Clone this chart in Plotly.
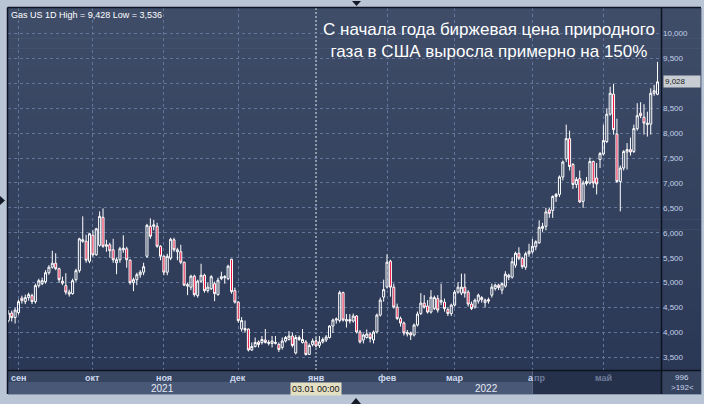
import plotly.graph_objects as go
import pandas as pd

# ---------------- data ----------------
dates = pd.bdate_range("2021-08-27", "2022-05-24")

opens = [4.24, 4.39, 4.30, 4.40, 4.69, 4.62, 4.70, 4.74, 4.62, 4.94,
         4.98, 5.02, 5.20, 5.31, 5.39, 5.28, 5.03, 4.94, 4.77, 4.78,
         5.06, 5.24, 5.83, 5.83, 5.43, 5.95, 5.56, 5.75, 6.31, 5.73,
         5.76, 5.66, 5.40, 5.46, 5.66, 5.68, 5.45, 5.00, 5.06, 5.16,
         5.21, 5.53, 6.13, 6.13, 6.13, 5.73, 5.53, 5.21, 5.49, 5.86,
         5.62, 5.62, 5.41, 4.93, 4.91, 5.13, 4.74, 5.03, 5.15, 4.84,
         4.88, 4.98, 4.76, 5.08, 5.10, 5.08, 5.47, 4.84, 4.61, 4.07,
         4.08, 4.07, 3.65, 3.72, 3.81, 3.80, 3.85, 3.78, 3.78, 3.78,
         3.76, 3.70, 3.83, 3.86, 3.93, 3.59, 3.86, 3.80, 3.81, 3.56,
         3.76, 3.83, 3.74, 3.81, 3.85, 3.90, 4.13, 4.25, 4.24, 4.80,
         4.23, 4.26, 4.23, 4.33, 4.01, 3.85, 3.90, 3.97, 3.85, 4.01,
         4.35, 4.71, 4.91, 5.43, 4.91, 4.51, 4.28, 4.19, 3.97, 3.99,
         3.95, 4.15, 4.38, 4.59, 4.53, 4.41, 4.48, 4.68, 4.61, 4.61,
         4.46, 4.38, 4.55, 4.81, 4.79, 4.91, 4.81, 4.57, 4.51, 4.63,
         4.70, 4.60, 4.66, 4.75, 4.88, 4.95, 4.85, 4.93, 5.11, 5.11,
         5.35, 5.59, 5.49, 5.31, 5.58, 5.62, 5.72, 5.80, 6.09, 6.13,
         6.46, 6.45, 6.73, 6.77, 7.12, 7.48, 7.89, 7.37, 6.97, 7.09,
         6.63, 6.99, 7.00, 7.43, 7.10, 7.47, 7.58, 7.83, 8.38, 8.78,
         7.98, 7.03, 7.30, 7.62, 7.67, 7.63, 8.09, 8.40, 8.32, 8.17,
         8.18, 8.80, 8.78]

highs = [4.45, 4.44, 4.50, 4.66, 4.74, 4.76, 4.80, 4.78, 4.98, 5.08,
         5.10, 5.25, 5.35, 5.64, 5.59, 5.30, 5.12, 5.19, 4.86, 5.08,
         5.28, 5.90, 6.33, 5.96, 6.00, 6.05, 6.10, 6.43, 6.49, 5.86,
         5.80, 5.88, 5.50, 5.72, 5.95, 5.72, 5.47, 5.10, 5.20, 5.25,
         5.40, 6.18, 6.29, 6.26, 6.20, 5.75, 5.55, 5.58, 5.90, 5.90,
         5.70, 5.76, 5.42, 5.00, 5.16, 5.16, 5.06, 5.38, 5.18, 5.00,
         5.15, 5.02, 5.10, 5.22, 5.15, 5.36, 5.48, 4.90, 4.63, 4.31,
         4.24, 4.08, 3.80, 3.90, 3.84, 3.93, 4.07, 3.85, 3.93, 3.93,
         3.80, 3.90, 3.93, 4.03, 4.00, 3.95, 3.94, 4.07, 3.85, 3.78,
         3.88, 3.90, 3.93, 3.90, 3.95, 4.15, 4.28, 4.30, 4.84, 4.82,
         4.37, 4.37, 4.38, 4.35, 4.05, 3.98, 4.06, 4.00, 4.04, 4.38,
         4.70, 5.06, 5.57, 5.46, 4.98, 4.58, 4.32, 4.22, 4.05, 4.02,
         4.18, 4.42, 4.79, 4.75, 4.65, 4.85, 4.74, 4.75, 4.98, 4.68,
         4.50, 4.58, 4.85, 5.01, 5.18, 5.18, 4.85, 4.62, 4.68, 4.78,
         4.73, 4.68, 4.70, 4.98, 4.98, 4.98, 5.00, 5.23, 5.18, 5.51,
         5.62, 5.71, 5.52, 5.62, 5.78, 5.88, 5.85, 6.25, 6.20, 6.50,
         6.50, 6.75, 6.80, 7.15, 7.45, 8.17, 8.05, 7.40, 7.12, 7.25,
         7.05, 7.12, 7.51, 7.45, 7.40, 7.62, 8.17, 8.50, 8.93, 8.99,
         8.29, 7.35, 7.66, 7.80, 7.91, 8.17, 8.60, 8.62, 8.58, 8.43,
         8.90, 8.97, 9.428]

lows = [4.20, 4.22, 4.18, 4.36, 4.58, 4.57, 4.64, 4.57, 4.58, 4.90,
        4.95, 4.98, 5.16, 5.28, 5.25, 5.00, 4.95, 4.76, 4.72, 4.76,
        5.02, 5.20, 5.80, 5.40, 5.39, 5.52, 5.54, 5.72, 5.70, 5.62,
        5.50, 5.40, 5.17, 5.40, 5.60, 5.30, 4.96, 4.83, 4.95, 5.10,
        5.15, 5.50, 5.88, 6.05, 5.70, 5.45, 5.15, 5.15, 5.45, 5.62,
        5.45, 5.37, 4.93, 4.75, 4.85, 4.72, 4.70, 5.00, 4.80, 4.80,
        4.85, 4.63, 4.74, 5.05, 4.98, 5.05, 4.78, 4.58, 4.20, 4.02,
        4.00, 3.62, 3.63, 3.70, 3.70, 3.76, 3.78, 3.74, 3.70, 3.76,
        3.61, 3.66, 3.80, 3.84, 3.70, 3.56, 3.83, 3.78, 3.536, 3.55,
        3.72, 3.70, 3.69, 3.78, 3.81, 3.88, 3.99, 4.18, 4.20, 4.22,
        4.10, 4.18, 4.20, 3.98, 3.78, 3.78, 3.88, 3.80, 3.78, 3.98,
        4.32, 4.62, 4.88, 4.72, 4.48, 4.25, 4.12, 3.94, 3.92, 3.85,
        3.92, 4.12, 4.35, 4.48, 4.38, 4.38, 4.45, 4.40, 4.55, 4.42,
        4.33, 4.33, 4.52, 4.78, 4.75, 4.70, 4.52, 4.45, 4.48, 4.58,
        4.60, 4.50, 4.58, 4.70, 4.84, 4.85, 4.77, 4.90, 5.05, 5.08,
        5.30, 5.45, 5.28, 5.26, 5.52, 5.58, 5.65, 5.78, 6.02, 6.05,
        6.30, 6.30, 6.62, 6.72, 7.05, 7.42, 7.25, 6.88, 6.90, 6.60,
        6.50, 6.95, 6.97, 6.90, 6.77, 7.30, 7.55, 7.80, 8.35, 7.97,
        7.00, 6.43, 7.25, 7.27, 7.55, 7.60, 8.05, 8.30, 7.97, 7.93,
        7.97, 8.75, 8.76]

closes = [4.39, 4.30, 4.45, 4.62, 4.64, 4.70, 4.76, 4.62, 4.94, 5.04,
          5.04, 5.20, 5.31, 5.39, 5.28, 5.06, 4.99, 4.81, 4.81, 5.04,
          5.24, 5.88, 5.86, 5.45, 5.98, 5.56, 6.08, 6.33, 5.73, 5.76,
          5.64, 5.46, 5.46, 5.68, 5.69, 5.46, 5.00, 5.06, 5.16, 5.21,
          5.32, 6.15, 5.93, 6.16, 5.73, 5.53, 5.21, 5.53, 5.87, 5.66,
          5.66, 5.41, 4.95, 4.96, 5.13, 4.76, 5.03, 5.15, 4.84, 4.91,
          5.12, 4.78, 5.05, 5.12, 5.12, 5.33, 4.82, 4.61, 4.24, 4.24,
          4.05, 3.65, 3.72, 3.80, 3.76, 3.86, 3.80, 3.80, 3.83, 3.80,
          3.66, 3.83, 3.90, 3.93, 3.74, 3.90, 3.90, 3.86, 3.56, 3.74,
          3.83, 3.73, 3.81, 3.86, 3.91, 4.13, 4.25, 4.27, 4.80, 4.25,
          4.26, 4.23, 4.33, 4.01, 3.81, 3.95, 3.97, 3.88, 4.01, 4.35,
          4.65, 4.86, 5.41, 4.91, 4.51, 4.28, 4.19, 3.99, 4.00, 3.95,
          4.15, 4.37, 4.59, 4.51, 4.41, 4.71, 4.70, 4.45, 4.64, 4.48,
          4.38, 4.55, 4.81, 4.91, 4.91, 4.79, 4.57, 4.48, 4.65, 4.75,
          4.66, 4.65, 4.63, 4.91, 4.95, 4.90, 4.98, 5.17, 5.15, 5.42,
          5.59, 5.49, 5.32, 5.58, 5.63, 5.73, 5.82, 6.11, 6.13, 6.42,
          6.39, 6.73, 6.77, 7.12, 7.42, 7.89, 7.33, 6.97, 7.07, 6.62,
          7.00, 7.03, 7.43, 7.00, 6.98, 7.59, 7.85, 8.38, 8.80, 8.07,
          7.03, 7.30, 7.63, 7.67, 7.62, 8.09, 8.35, 8.35, 8.20, 8.20,
          8.80, 8.85, 9.028]

month_labels = ["сен", "окт", "ноя", "дек", "янв", "фев", "мар", "апр", "май"]
year_labels = ["2021", "2022"]
price_ticks = [3.5, 4.0, 4.5, 5.0, 5.5, 6.0, 6.5, 7.0, 7.5, 8.0, 8.5, 9.0, 9.5, 10.0]
header_text = "Gas US 1D High = 9,428 Low = 3,536"
title_text = "С начала года биржевая цена природного<br>газа в США выросла примерно на 150%"
crosshair_label = "03.01 00:00"
corner_top = "996"
corner_bottom = ">192<"

# ---------------- geometry helpers ----------------
W, H = 704, 404
L, R, T, B = 8, 662, 8, 370          # plot area in pixels
PW, PH = R - L, B - T
XR = [-0.106, 193.33]
YR = [3.248, 10.51]

def pxx(p):
    return (p - L) / PW

def pxy(p):
    return (B - p) / PH

def idx_px(i):
    return L + (i - XR[0]) / (XR[1] - XR[0]) * PW

x = list(range(len(dates)))
month_idx = [i for i in range(1, len(dates)) if dates[i].month != dates[i - 1].month]
jan_idx = month_idx[4]
last = closes[-1]

shapes = []

def rect(x0, y0, x1, y1, color, layer="below"):
    shapes.append(dict(type="rect", xref="paper", yref="paper",
                       x0=pxx(x0), x1=pxx(x1), y0=pxy(y1), y1=pxy(y0),
                       fillcolor=color, layer=layer, line=dict(width=0)))

# gradient background for plot + right panel
top_c = (63, 77, 105)
bot_c = (43, 56, 85)
n = 36
for k in range(n):
    y0 = T + PH * k / n
    y1 = T + PH * (k + 1) / n + 0.6
    t = (k + 0.5) / n
    c = tuple(int(round(top_c[j] + (bot_c[j] - top_c[j]) * t)) for j in range(3))
    rect(L, y0, 701, y1, "rgb(%d,%d,%d)" % c)

# bottom axis rows
rect(L, B, R, 382, "#37445f")
rect(L, 382, R, 394, "#4a5877")
apr_px = idx_px(month_idx[7])
rect(apr_px, B, R, 394, "#25314b")
shapes.append(dict(type="line", xref="paper", yref="paper", x0=pxx(apr_px), x1=pxx(apr_px),
                   y0=pxy(394), y1=pxy(B), line=dict(color="#5d6a82", width=1), layer="below"))
rect(R, B, 701, 394, "#36435e")

# frame lines
line_c = "#0d1320"
def seg(x0, y0, x1, y1, color, w):
    shapes.append(dict(type="line", xref="paper", yref="paper", x0=pxx(x0), x1=pxx(x1),
                       y0=pxy(y0), y1=pxy(y1), line=dict(color=color, width=w)))

seg(L - 0.5, T - 0.5, 701, T - 0.5, line_c, 1.5)
seg(L - 0.5, T - 0.5, L - 0.5, 394, line_c, 1.5)
seg(R - 0.5, T, R - 0.5, 394, line_c, 1.5)
seg(L, B + 0.5, 701, B + 0.5, line_c, 1.5)
seg(L, 394.5, 701.5, 394.5, "#8a97ad", 1)
seg(701.5, T, 701.5, 394.5, "#8a97ad", 1)

# crosshair at Jan 3
shapes.append(dict(type="line", xref="x", yref="paper", x0=jan_idx, x1=jan_idx, y0=0, y1=1,
                   line=dict(color="#e8ecf4", width=1, dash="2px,2px"), layer="below"))

# small triangles on the outer frame
def tri(pts):
    path = "M " + " L ".join("%f,%f" % (pxx(a), pxy(b)) for a, b in pts) + " Z"
    shapes.append(dict(type="path", xref="paper", yref="paper", path=path,
                       fillcolor="#141a26", line=dict(width=0)))

tri([(352, 1), (361, 1), (356.5, 6)])
tri([(351, 404), (361, 404), (356, 398)])
tri([(0, 196), (0, 205), (5, 200.5)])

# ---------------- traces ----------------
fig = go.Figure()
fig.add_trace(go.Candlestick(
    x=x, open=opens, high=highs, low=lows, close=closes,
    increasing=dict(line=dict(color="#ffffff", width=1), fillcolor="rgba(0,0,0,0)"),
    decreasing=dict(line=dict(color="#ffffff", width=1), fillcolor="#e8143f"),
    whiskerwidth=0, hoverinfo="skip", showlegend=False,
))

# ---------------- annotations ----------------
font_fam = "Liberation Sans, Arial, sans-serif"
ann = []
ann.append(dict(text=title_text, xref="paper", yref="paper", x=pxx(489), y=pxy(40.5),
                xanchor="center", yanchor="middle", showarrow=False, align="center",
                font=dict(family=font_fam, size=17, color="#ffffff")))
ann.append(dict(text=header_text, xref="paper", yref="paper", x=pxx(9), y=pxy(15),
                xanchor="left", yanchor="middle", showarrow=False,
                font=dict(family=font_fam, size=9, color="#ffffff")))

lab_c = "#ccd8f0"
dim_c = "#6e7c99"
mfont = dict(family=font_fam, size=9, weight="bold")
for k, (i, lab) in enumerate(zip(month_idx, month_labels)):
    if k == 7:
        ann.append(dict(text=lab[0], xref="x", yref="paper", x=i, y=pxy(378), xanchor="right",
                        yanchor="middle", showarrow=False, borderpad=0, borderwidth=0, xshift=2,
                        font=dict(mfont, color=lab_c)))
        ann.append(dict(text=lab[1:], xref="x", yref="paper", x=i, y=pxy(378), xanchor="left",
                        yanchor="middle", showarrow=False, borderpad=0, borderwidth=0, xshift=2,
                        font=dict(mfont, color=dim_c)))
    else:
        col = dim_c if k == 8 else lab_c
        ann.append(dict(text=lab, xref="x", yref="paper", x=i, y=pxy(378), xanchor="center",
                        yanchor="middle", showarrow=False,
                        font=dict(mfont, color=col)))

year_pos = [(0 + jan_idx) / 2, (jan_idx + len(dates) - 1) / 2]
for pos, lab in zip(year_pos, year_labels):
    ann.append(dict(text=lab, xref="x", yref="paper", x=pos, y=pxy(388.5), xanchor="center",
                    yanchor="middle", showarrow=False,
                    font=dict(family=font_fam, size=10, color="#e4eaf6")))

ann.append(dict(text=crosshair_label, xref="x", yref="paper", x=jan_idx, y=pxy(388.5),
                xanchor="center", yanchor="middle", showarrow=False, bgcolor="#e4e0c4",
                borderpad=1, font=dict(family=font_fam, size=9, color="#141414")))

ann.append(dict(text=corner_top, xref="paper", yref="paper", x=pxx(682), y=pxy(377),
                xanchor="center", yanchor="middle", showarrow=False,
                font=dict(family=font_fam, size=8, color=lab_c)))
ann.append(dict(text=corner_bottom, xref="paper", yref="paper", x=pxx(682), y=pxy(387),
                xanchor="center", yanchor="middle", showarrow=False,
                font=dict(family=font_fam, size=8, color=lab_c)))

ann.append(dict(text=("%.3f" % last).replace(".", ","), xref="paper", yref="y", x=pxx(662.5), y=last,
                xanchor="left", yanchor="middle", showarrow=False, bgcolor="#c8cdd3",
                width=34, align="left", borderpad=1,
                font=dict(family=font_fam, size=8, color="#1c1c1c")))

# tick labels (the one hidden behind the last-price box is left blank)
tick_text = ["" if abs(v - last) < 0.25 else ("%.3f" % v).replace(".", ",") for v in price_ticks]

grid_c = "#62759a"
fig.update_layout(
    width=W, height=H,
    margin=dict(l=L, r=W - R, t=T, b=H - B, pad=0),
    paper_bgcolor="#b9c4d4",
    plot_bgcolor="rgba(0,0,0,0)",
    boxgap=0.15,
    showlegend=False,
    shapes=shapes,
    annotations=ann,
    xaxis=dict(range=XR, tickvals=[i for k, i in enumerate(month_idx) if k != 4],
               showticklabels=False, ticks="", showgrid=True, gridcolor=grid_c,
               griddash="3px,3px", gridwidth=1, zeroline=False, showline=False,
               rangeslider=dict(visible=False), fixedrange=True),
    yaxis=dict(range=YR, side="right", tickvals=price_ticks, ticktext=tick_text,
               ticks="", showgrid=True, gridcolor=grid_c, griddash="3px,3px", gridwidth=1,
               zeroline=False, showline=False, ticklabelstandoff=0,
               tickfont=dict(family=font_fam, size=8, color="#c3d1ec"), fixedrange=True),
)

fig.write_html("out.html", config={"displayModeBar": False},
               post_script="document.body.style.margin='0';document.body.style.background='#b9c4d4';")
